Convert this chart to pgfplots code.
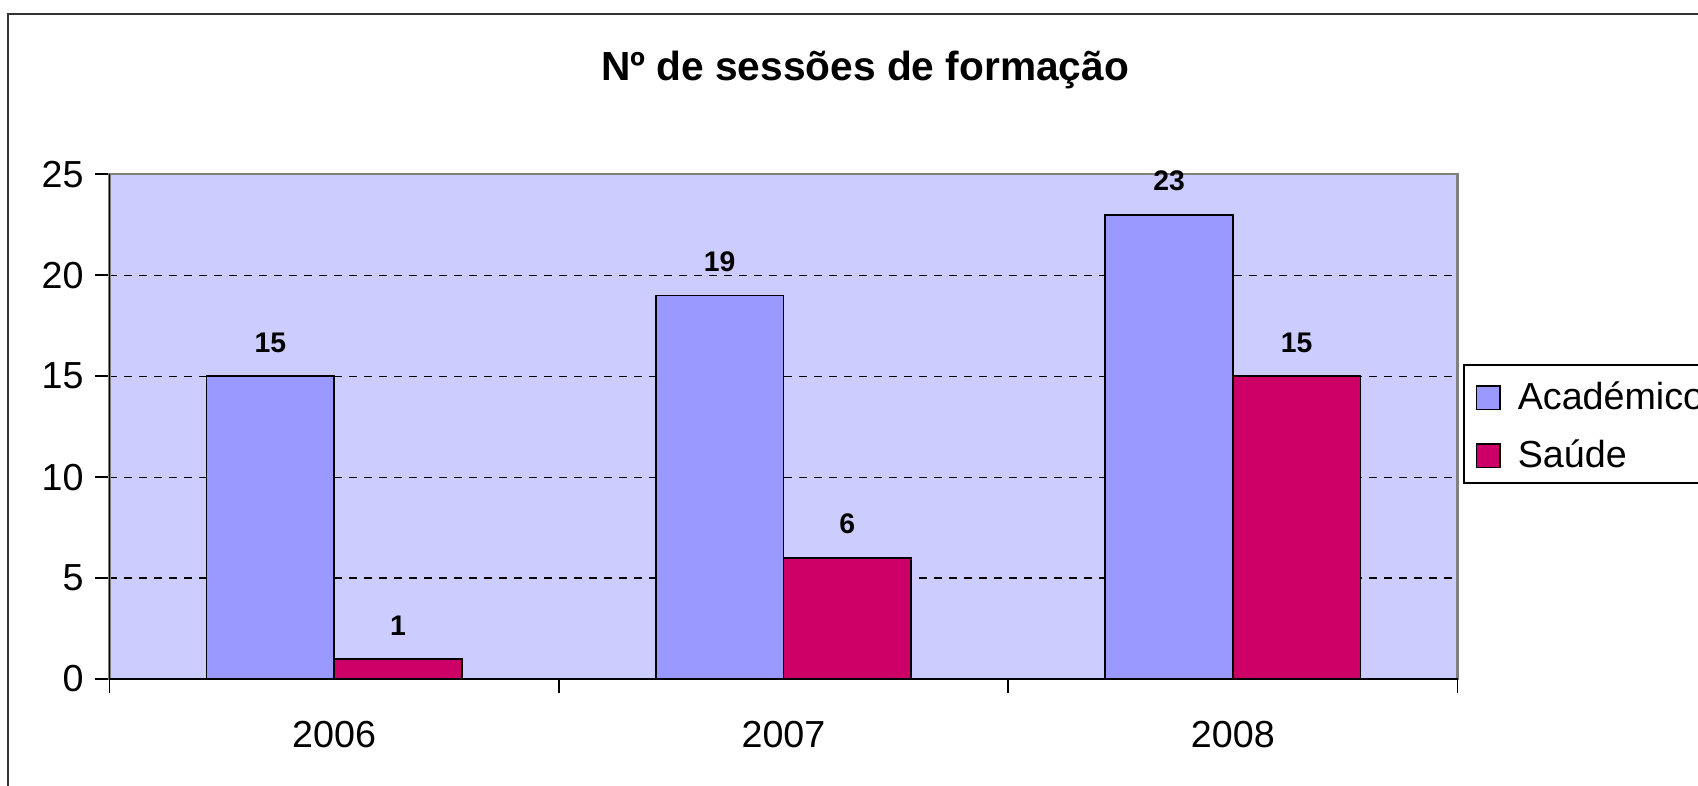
\documentclass[border=0pt]{standalone}
\usepackage{pgfplots}
\pgfplotsset{compat=1.18}
\usepackage{fontspec}
\setmainfont{Liberation Sans}
\definecolor{plotbg}{HTML}{CCCCFF}
\definecolor{acad}{HTML}{9999FF}
\definecolor{saude}{HTML}{CC0066}
\definecolor{framegray}{HTML}{808080}
\pgfplotsset{
  sqlegend/.style={legend image code/.code={
    \draw[##1, draw=black, line width=0.5pt] (0pt,-4.4pt) rectangle (7pt,2.6pt);}},
}
\begin{document}
\begin{tikzpicture}
\clip (0,0) rectangle (509.4pt,-235.8pt);
\draw[black!80, line width=0.6pt] (2.3pt,-4.2pt) rectangle (520pt,-245pt);
\node[font=\fontsize{12.2}{14}\selectfont\bfseries, anchor=base]
  at (259.5pt,-24pt) {Nº de sessões de formação};
\begin{axis}[
  at={(32.82pt,-203.7pt)}, anchor=south west,
  scale only axis, width=404.46pt, height=151.41pt,
  ybar=0pt, bar width=0.284,
  xmin=-0.5, xmax=2.5, ymin=0, ymax=25,
  xtick={0,1,2}, xticklabels={2006,2007,2008},
  minor xtick={-0.5,0.5,1.5,2.5},
  ytick={0,5,...,25},
  tick align=outside, tick pos=left,
  major tick length=4.2pt, minor tick length=4.2pt,
  tick style={black, line width=0.5pt},
  major x tick style={draw=none},
  /pgf/number format/assume math mode=true,
  tick label style={font=\fontsize{11.3}{13}\selectfont},
  xticklabel style={yshift=-5pt},
  axis background/.style={fill=plotbg},
  axis line style={framegray, line width=0.7pt},
  ymajorgrids,
  major grid style={black, line width=0.35pt, dash pattern=on 2.4pt off 2.1pt},
  nodes near coords,
  every node near coord/.append style={font=\fontsize{8.5}{9}\selectfont\bfseries, yshift=3.5pt, text=black},
  legend style={at={(1.004,0.624)}, anchor=north west, draw=black, line width=0.5pt,
    fill=white, font=\fontsize{11.3}{13}\selectfont, inner xsep=3.6pt, inner ysep=2pt,
    row sep=3.4pt, nodes={inner sep=0pt, text height=11.5pt, text depth=2.5pt},
    /tikz/every odd column/.append style={column sep=5.1pt}},
  legend cell align=left,
  after end axis/.code={
    \draw[black, line width=0.5pt] (rel axis cs:0,1) -- (rel axis cs:0,0) -- (rel axis cs:1,0);
  },
]
\addplot[fill=acad, draw=black, line width=0.5pt, sqlegend] coordinates {(0,15) (1,19) (2,23)};
\addplot[fill=saude, draw=black, line width=0.5pt, sqlegend] coordinates {(0,1) (1,6) (2,15)};
\legend{Académico, Saúde}
\end{axis}
\end{tikzpicture}
\end{document}
